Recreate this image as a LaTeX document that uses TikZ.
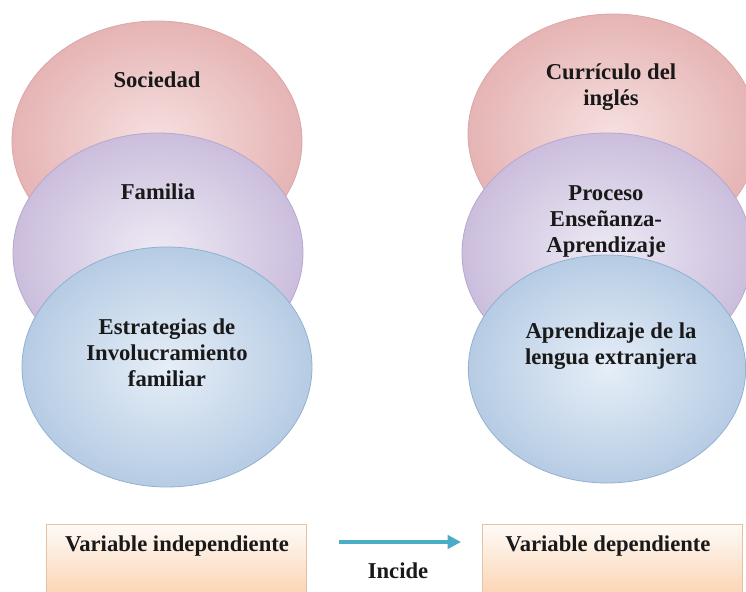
\documentclass[tikz,border=0pt]{standalone}
\usepackage{fontspec}
\setmainfont{Liberation Serif}
\usetikzlibrary{shapes.geometric,arrows.meta}
\definecolor{redin}{HTML}{F6E0E0}
\definecolor{redout}{HTML}{E6B4B4}
\definecolor{redline}{HTML}{D9A8A8}
\definecolor{purin}{HTML}{EEEAF4}
\definecolor{purout}{HTML}{CBBEDD}
\definecolor{purline}{HTML}{B5A8CE}
\definecolor{bluin}{HTML}{E6EEF7}
\definecolor{bluout}{HTML}{B6CCE4}
\definecolor{bluline}{HTML}{93B0D0}
\definecolor{peachtop}{HTML}{FEFBF8}
\definecolor{peachbot}{HTML}{FBD5B4}
\definecolor{peachline}{HTML}{E6C2A2}
\definecolor{arrowteal}{HTML}{4BACC6}
\tikzset{
  bubble/.style={ellipse, inner sep=0pt, minimum width=217.5pt, minimum height=180pt, line width=0.6pt},
  redb/.style={bubble, draw=redline, inner color=redin, outer color=redout},
  purb/.style={bubble, draw=purline, inner color=purin, outer color=purout},
  blub/.style={bubble, draw=bluline, inner color=bluin, outer color=bluout},
  txt/.style={font=\bfseries\fontsize{17}{19.5}\selectfont, align=center, inner sep=0pt, text=black!90},
  varbox/.style={rectangle, draw=peachline, line width=0.6pt, top color=peachtop, bottom color=peachbot, minimum width=195pt, minimum height=52.5pt, inner sep=0pt},
  incarrow/.style={draw=arrowteal, line width=3pt, -{Triangle[length=10pt,width=10pt]}}
}
\begin{document}
\begin{tikzpicture}[x=0.75pt,y=-0.75pt]
\useasboundingbox (0,0) rectangle (746,592);
\clip (0,0) rectangle (746,592);
% left column
\node[redb] (soc) at (157,141) {};
\node[purb] (fam) at (158,253) {};
\node[blub] (est) at (167,367) {};
\node[txt] (socT) at (157,80) {Sociedad};
\node[txt] (famT) at (158,192) {Familia};
\node[txt] (estT) at (167,353) {Estrategias de\\Involucramiento\\familiar};
% right column
\node[redb] (cur) at (613,134) {};
\node[purb] (pro) at (607,253) {};
\node[txt] (curT) at (611,87) {Currículo del\\inglés};
\node[txt] (proT) at (606,221) {Proceso\\Enseñanza-\\Aprendizaje};
\node[blub, minimum width=208pt, minimum height=171pt] (apr) at (607,369) {};
\node[txt] (aprT) at (611,346) {Aprendizaje de la\\lengua extranjera};
% bottom
\node[varbox] (vi) at (176,559) {};
\node[varbox] (vd) at (612,559) {};
\node[txt] (viT) at (177,546) {Variable independiente};
\node[txt] (vdT) at (608,546) {Variable dependiente};
\coordinate (a1) at (339,542);
\coordinate (a2) at (461,542);
\draw[incarrow] (a1) -- (a2);
\node[txt] (inc) at (398,571) {Incide};
\end{tikzpicture}
\end{document}
